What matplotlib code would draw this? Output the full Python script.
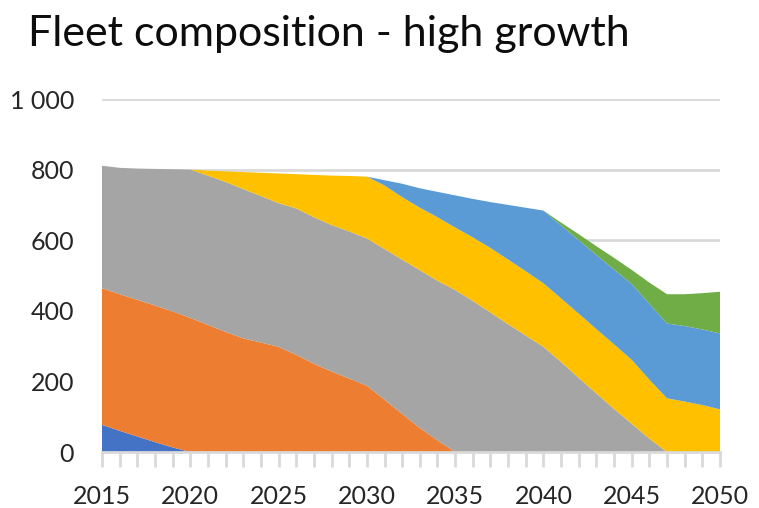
import numpy as np
import matplotlib.pyplot as plt

years = list(range(2015, 2051))

# fleet by technology, one value per year 2015..2050
tech_1 = [77, 60, 44, 28, 13, 0] + [0] * 30
tech_2 = [387, 387, 387, 387, 385, 380, 360, 340, 322, 310,
          298, 275, 250, 228, 208, 188, 148, 108, 68, 33,
          0] + [0] * 15
tech_3 = [347, 358, 372, 387, 403, 420, 423, 425, 423, 415,
          407, 415, 415, 415, 417, 417, 427, 437, 447, 452,
          459, 428, 395, 362, 330, 298, 255, 210, 166, 122,
          80, 38, 0, 0, 0, 0]
tech_4 = [0, 0, 0, 0, 0, 0, 14, 30, 48, 66,
          84, 97, 120, 140, 157, 175, 180, 177, 177, 180,
          177, 180, 183, 183, 182, 180, 180, 182, 182, 183,
          181, 167, 152, 143, 133, 121]
tech_5 = [0] * 16 + [15, 38, 55, 72, 91, 109, 130, 155, 180, 206,
                     207, 208, 210, 212, 215, 215, 212, 214, 214, 215]
tech_6 = [0] * 26 + [8, 17, 25, 33, 40, 60, 83, 90, 103, 118]

colors = ['#4472C4', '#ED7D31', '#A5A5A5', '#FFC000', '#5B9BD5', '#70AD47']

plt.rcParams['font.family'] = ['Lato', 'DejaVu Sans']

fig = plt.figure(figsize=(7.59, 5.08), dpi=100)
ax = fig.add_axes([0.1344, 0.1102, 0.8142, 0.6949])

ax.stackplot(years, tech_1, tech_2, tech_3, tech_4, tech_5, tech_6,
             colors=colors, linewidth=0)

ax.set_xlim(2015, 2050)
ax.set_ylim(0, 1000)
ax.set_yticks(np.arange(0, 1001, 200))
ax.set_yticklabels(['0', '200', '400', '600', '800', '1 000'])
ax.set_xticks(range(2015, 2051, 5))
ax.set_xticks(years, minor=True)

ax.set_axisbelow(True)
ax.grid(axis='y', color='#d9d9d9', linewidth=2)
for s in ['top', 'right', 'left']:
    ax.spines[s].set_visible(False)
ax.spines['bottom'].set_color('#d9d9d9')
ax.spines['bottom'].set_linewidth(2)

ax.tick_params(axis='y', length=0, pad=20, labelsize=18, labelcolor='#262626')
ax.tick_params(axis='x', which='both', direction='out', color='#d9d9d9',
               width=2, length=11, pad=13, labelsize=18, labelcolor='#262626')

fig.text(28 / 759, 1 - 46 / 508, 'Fleet composition - high growth',
         fontsize=31, color='#0d0d0d', va='baseline', ha='left')

fig.savefig('out.png', dpi=100)
